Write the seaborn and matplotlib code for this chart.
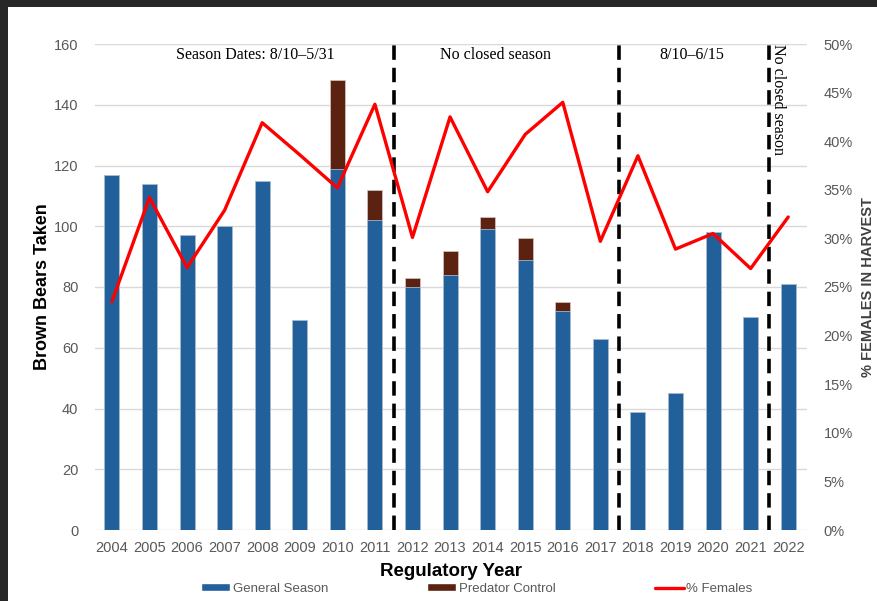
import numpy as np
import pandas as pd
import seaborn as sns
import matplotlib.pyplot as plt
from matplotlib.patches import Rectangle, Patch
from matplotlib.lines import Line2D
import matplotlib.ticker as ticker

years = [str(y) for y in range(2004, 2023)]
general = [117, 114, 97, 100, 115, 69, 119, 102, 80, 84, 99, 89, 72, 63, 39, 45, 98, 70, 81]
predator = [0, 0, 0, 0, 0, 0, 29, 10, 3, 8, 4, 7, 3, 0, 0, 0, 0, 0, 0]
pct_females = [23.5, 34.2, 27.0, 32.9, 41.9, 38.6, 35.2, 43.8, 30.1, 42.5, 34.8, 40.7,
               44.0, 29.7, 38.5, 28.9, 30.5, 26.9, 32.2]
breaks = [7.5, 13.5, 17.5]
season_labels = ["Season Dates: 8/10\u20135/31", "No closed season", "8/10\u20136/15"]
season_x = [3.81, 10.2, 15.44]

df = pd.DataFrame({"year": years, "general": general, "predator": predator,
                   "pct": pct_females})
df["total"] = df.general + df.predator

sns.set_style("white")
plt.rcParams['font.family'] = ['Liberation Sans', 'DejaVu Sans']

blue = "#22609B"
brown = "#5B2211"
grey = "#595959"

fig = plt.figure(figsize=(8.78, 6.01), dpi=100)
fig.patch.set_facecolor("#272727")
fig.add_artist(Rectangle((8/878, 0), 1, (601-7)/601, transform=fig.transFigure,
                         facecolor="white", edgecolor="none", zorder=-10))
ax = fig.add_axes([95/878, 1-530/601, (807-95)/878, (530-44)/601])
ax.set_facecolor("none")

# stacked bars: total in brown, general season drawn over it
sns.barplot(data=df, x="year", y="total", color=brown, width=0.4, ax=ax,
            edgecolor="#d8c8c0", linewidth=0.5, saturation=1, zorder=2)
sns.barplot(data=df, x="year", y="general", color=blue, width=0.4, ax=ax,
            edgecolor="#b8cce0", linewidth=0.5, saturation=1, zorder=3)

ax.set_ylim(0, 160)
ax.set_xlim(-0.45, 18.5)
ax.yaxis.set_major_locator(ticker.MultipleLocator(20))
ax.grid(axis="y", color="#d9d9d9", linewidth=1, zorder=0)
ax.set_axisbelow(True)
for s in ax.spines.values():
    s.set_visible(False)
ax.tick_params(axis="both", length=0, labelsize=10.5, labelcolor=grey)
ax.tick_params(axis="y", pad=12)
ax.tick_params(axis="x", pad=8)
ax.set_ylabel("Brown Bears Taken", fontsize=13, fontweight="bold", color="black")
ax.yaxis.set_label_coords(-(95-51)/712, 0.5)
ax.set_xlabel("Regulatory Year", fontsize=13.5, fontweight="bold", color="black", labelpad=6)

for b in breaks:
    ax.axvline(b, ymin=0, ymax=1.0, color="black", linewidth=2.6,
               dashes=(4, 2.2), zorder=4)

for lab, xx in zip(season_labels, season_x):
    ax.text(xx, 156.5, lab, ha="center", va="center", fontsize=11.5,
            family=["Liberation Serif", "DejaVu Serif"], color="black")
ax.text(17.73, 160, "No closed season", ha="center", va="top", rotation=270,
        fontsize=11.5, family=["Liberation Serif", "DejaVu Serif"], color="black")

ax2 = ax.twinx()
sns.lineplot(x=np.arange(len(years)), y=df.pct, color="#FF0000", linewidth=2.4,
             ax=ax2, zorder=5)
ax2.set_ylim(0, 50)
ax2.yaxis.set_major_locator(ticker.MultipleLocator(5))
ax2.yaxis.set_major_formatter(ticker.FormatStrFormatter('%d%%'))
for s in ax2.spines.values():
    s.set_visible(False)
ax2.tick_params(axis="y", length=0, labelsize=10.5, labelcolor=grey, pad=12)
ax2.set_ylabel("% FEMALES IN HARVEST", fontsize=10.5, fontweight="bold",
               color="#404040", labelpad=6)
ax2.grid(False)

handles = [Patch(facecolor=blue), Patch(facecolor=brown),
           Line2D([0], [0], color="#FF0000", linewidth=2.4)]
fig.legend(handles, ["General Season", "Predator Control", "% Females"],
           loc="center", bbox_to_anchor=(477/878, 1-589/601), ncol=3,
           frameon=False, fontsize=9.5, labelcolor=grey, columnspacing=7.5,
           handlelength=2.2, handletextpad=0.2, handleheight=0.55)

fig.savefig("out.png", dpi=100, facecolor=fig.get_facecolor())
